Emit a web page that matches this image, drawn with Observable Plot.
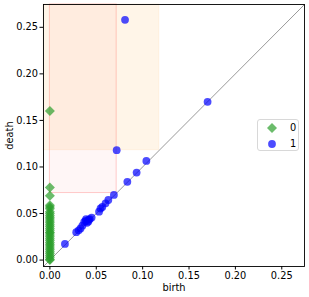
<!DOCTYPE html>
<html>
<head>
<meta charset="utf-8">
<script src="https://cdn.jsdelivr.net/npm/d3@7"></script>
<script src="https://cdn.jsdelivr.net/npm/@observablehq/plot@0.6"></script>
<style>
  html, body { margin: 0; padding: 0; background: #fff; }
  #wrap { position: relative; width: 309px; height: 297px; font-family: "DejaVu Sans", sans-serif; }
  #legend { position: absolute; left: 257px; top: 119px; width: 42px; height: 32px;
    border: 1px solid #d8d8d8; border-radius: 3px; background: rgba(255,255,255,0.85); box-sizing: border-box; }
  .lrow { position: absolute; left: 0; font-size: 9.8px; color: #000; }
  .lrow svg { position: absolute; }
  .lrow span { position: absolute; left: 32px; line-height: 10px; }
</style>
</head>
<body>
<div id="wrap"></div>
<script>
// Axis limits and ticks
const axisMin = -0.0069;
const axisMax = 0.2745;
const ticks = [0, 0.05, 0.10, 0.15, 0.20, 0.25];

// Dimension 0 (H0) points: birth always 0
const h0Death = [0.160, 0.078, 0.069, 0.059, 0.057, 0.055, 0.052, 0.050, 0.048, 0.046, 0.044, 0.042, 0.040,
  0.038, 0.036, 0.034, 0.032, 0.030, 0.029, 0.027, 0.025, 0.023, 0.021, 0.019, 0.017, 0.015, 0.013,
  0.011, 0.009, 0.007, 0.005, 0.003, 0.001, 0.000];
const h0Birth = h0Death.map(() => 0);

// Dimension 1 (H1) points
const h1Birth = [0.081, 0.072, 0.170, 0.104, 0.0935, 0.0835, 0.069, 0.063, 0.060, 0.0565, 0.0546, 0.053,
  0.045, 0.042, 0.0385, 0.040, 0.035, 0.031, 0.0284, 0.0162, 0.033, 0.037, 0.043, 0.039, 0.0415];
const h1Death = [0.258, 0.118, 0.170, 0.1065, 0.094, 0.084, 0.070, 0.0645, 0.061, 0.057, 0.0554, 0.052,
  0.0457, 0.0435, 0.042, 0.040, 0.037, 0.032, 0.030, 0.0174, 0.034, 0.041, 0.044, 0.044, 0.0415];

// Shaded regions (birth range x death range)
const regionBirthMin = [0, axisMin];
const regionBirthMax = [0.072, 0.118];
const regionDeathMin = [0.072, 0.118];
const regionDeathMax = [axisMax, axisMax];
const regionFill = ["#ff0000", "#ff8c00"];
const regionFillOpacity = [0.035, 0.09];
const regionStrokeOpacity = [0.2, 0.08];

const h0 = h0Death.map((d, i) => ({birth: h0Birth[i], death: d}));
const h1 = h1Death.map((d, i) => ({birth: h1Birth[i], death: d}));
const regions = regionBirthMax.map((b, i) => ({
  x1: regionBirthMin[i], x2: b, y1: regionDeathMin[i], y2: regionDeathMax[i],
  fill: regionFill[i], fo: regionFillOpacity[i], so: regionStrokeOpacity[i]
}));
const diag = [{v: axisMin}, {v: axisMax}];
const fmt = d3.format(".2f");

const chart = Plot.plot({
  width: 309,
  height: 297,
  marginLeft: 43,
  marginRight: 5,
  marginTop: 4,
  marginBottom: 31,
  style: {fontFamily: "DejaVu Sans", fontSize: "9.8px", color: "#000", background: "#fff"},
  x: {domain: [axisMin, axisMax], ticks, tickFormat: fmt},
  y: {domain: [axisMin, axisMax], ticks, tickFormat: fmt},
  marks: [
    ...regions.map(r => Plot.rect([r], {x1: "x1", x2: "x2", y1: "y1", y2: "y2",
      fill: r.fill, fillOpacity: r.fo, stroke: r.fill, strokeOpacity: r.so, strokeWidth: 1})),
    Plot.line(diag, {x: "v", y: "v", stroke: "#9a9a9a", strokeWidth: 1}),
    Plot.dot(h0, {x: "birth", y: "death", symbol: "diamond2", r: 4.5, fill: "#2ca02c", fillOpacity: 0.7, stroke: "none"}),
    Plot.dot(h1, {x: "birth", y: "death", symbol: "circle", r: 3.9, fill: "#0000ff", fillOpacity: 0.7, stroke: "none"}),
    Plot.frame({stroke: "#000", strokeWidth: 0.9}),
    Plot.axisX({ticks, tickFormat: fmt, tickSize: 3.5, tickPadding: 2, label: "birth", labelAnchor: "center", labelArrow: "none", labelOffset: 24}),
    Plot.axisY({ticks, tickFormat: fmt, tickSize: 3.5, tickPadding: 2, label: "death", labelAnchor: "center", labelArrow: "none", labelOffset: 37})
  ]
});

const wrap = document.getElementById("wrap");
wrap.appendChild(chart);

// Legend
const legend = document.createElement("div");
legend.id = "legend";
const items = [
  {label: "0", sym: "diamond", color: "#2ca02c"},
  {label: "1", sym: "circle", color: "#0000ff"}
];
items.forEach((it, i) => {
  const row = document.createElement("div");
  row.className = "lrow";
  row.style.top = (2 + i * 15.5) + "px";
  const sv = d3.create("svg").attr("width", 12).attr("height", 12).style("left", "8px").style("top", "0px");
  if (it.sym === "diamond") {
    sv.append("path").attr("d", "M6,1L11,6L6,11L1,6Z").attr("fill", it.color).attr("fill-opacity", 0.7);
  } else {
    sv.append("circle").attr("cx", 6).attr("cy", 6).attr("r", 3.9).attr("fill", it.color).attr("fill-opacity", 0.7);
  }
  row.appendChild(sv.node());
  const sp = document.createElement("span");
  sp.textContent = it.label;
  sp.style.top = "1px";
  row.appendChild(sp);
  legend.appendChild(row);
});
wrap.appendChild(legend);
</script>
</body>
</html>
